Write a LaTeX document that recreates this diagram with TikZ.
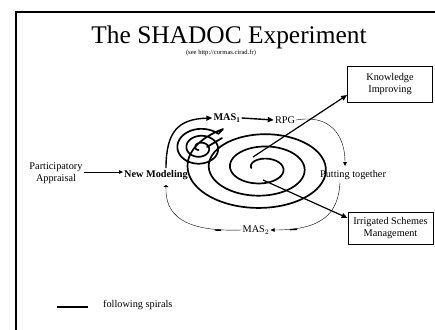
\documentclass[tikz,border=0pt]{standalone}
\usepackage{fontspec}
\setmainfont{Liberation Serif}
\usetikzlibrary{arrows.meta}
\tikzset{
  spiralline/.style={line width=1.7bp, line cap=round, line join=round},
  thickarrow/.style={line width=1.4bp, -{Triangle[length=6bp,width=5bp]}},
  thinarrow/.style={line width=0.4bp, -{Triangle[length=4bp,width=3.5bp]}},
  txt/.style={font=\fontsize{10.3}{11.5}\selectfont, align=center, inner sep=1bp},
  boxnode/.style={txt, draw, line width=0.8bp, minimum width=85bp}
}
\begin{document}
\begin{tikzpicture}[x=1bp,y=-1bp]
  \useasboundingbox (0,0) rectangle (435,329);
  % frame
  \draw[line width=1.5bp] (16,330) -- (16,12) -- (436,12);
  % title
  \node (title) at (229,37) {\fontsize{25.5}{28}\selectfont The SHADOC Experiment};
  \node (see) at (221,53) {\fontsize{6.6}{7.5}\selectfont (see http://cormas.cirad.fr)};
  % texts
  \node[txt] (part) at (56,173) {Participatory\\Appraisal};
  \node[txt] (newmod) at (156,175) {\bfseries New Modeling};
  \node[txt] (mas1) at (227,118) {\bfseries MAS$_{\mathbf{1}}$};
  \node[txt] (rpg) at (285,120) {RPG};
  \node[txt] (put) at (353,175) {Putting together};
  \node[txt] (mas2) at (256,230) {MAS$_2$};
  \node[boxnode, minimum height=36bp] (know) at (390,84) {Knowledge\\Improving};
  \node[boxnode, minimum height=32bp] (irr) at (390.5,228) {Irrigated Schemes\\Management};
  % spirals
  \draw[spiralline] plot[domain=120:1035, samples=160, smooth]
    ({200+26*(\x/1035)*cos(\x)}, {148+20*(\x/1035)*sin(\x)})
    -- plot[domain=1320:180, samples=200, smooth]
    ({262+78*(\x/1320)*cos(\x)}, {168+45*(\x/1320)*sin(\x)});
  \draw[spiralline] (207,147) -- (222,138);
  \coordinate (bigc) at (253,157);
  \coordinate (bigh) at (263,180);
  \coordinate (start) at (166,168);
  % thick arrows
  \draw[thickarrow] (start) .. controls (166,132) and (178,119) .. (mas1.west);
  \draw[thickarrow] (mas1.east) -- (rpg.west);
  \draw[thickarrow, line width=1.2bp] (bigc) -- (know.west |- 0,95);
  \draw[thickarrow, line width=1.2bp] (bigh) -- (irr.west |- 0,218);
  % thin loop
  \draw[thinarrow] (part.east |- 0,172) -- (newmod.west |- 0,172);
  \draw[thinarrow] (rpg.east) .. controls (330,114) and (345,135) .. (345,166);
  \draw[thinarrow] (340,183) .. controls (338,214) and (322,230) .. (mas2.east);
  \draw[thinarrow, -{Triangle[length=2bp,width=5bp]}] (mas2.west) .. controls (182,232) and (165,214) .. (166,185);
  \draw[line width=1.4bp] (290,229.6) -- (297,229.3);
  \draw[line width=1.4bp] (215,230) -- (221,230.2);
  % legend
  \draw[line width=1.5bp] (57,307) -- (88,307);
  \node[txt, anchor=west] (legend) at (102,305) {following spirals};
\end{tikzpicture}
\end{document}
